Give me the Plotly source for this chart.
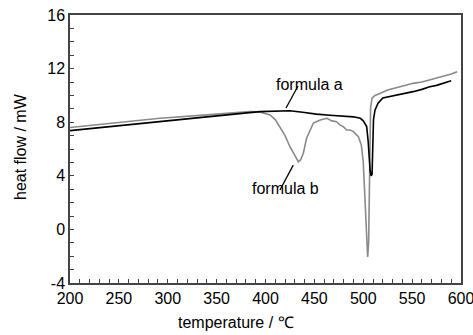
import plotly.graph_objects as go

# formula a (black)
temp_a = [200, 250, 292, 340, 394, 410, 425, 440, 452, 466, 480, 490, 497, 500, 503.5, 505, 507, 508, 509,
          509.5, 510.5, 512, 515, 520, 530, 538, 551, 560, 568, 575, 582, 590]
heat_a = [7.37, 7.72, 8.04, 8.4, 8.79, 8.84, 8.86, 8.72, 8.6, 8.52, 8.46, 8.4, 8.29, 8.1, 7.67, 6.6, 4.4, 4.0, 4.1,
          6.0, 8.2, 8.9, 9.4, 9.8, 9.95, 10.03, 10.28, 10.45, 10.65, 10.75, 10.9, 11.1]

# formula b (gray)
temp_b = [200, 250, 292, 340, 384, 395, 404.6, 410, 414.8, 420, 425, 430, 433.6, 436, 438.7, 442, 445.5, 449,
          452, 456, 462.6, 468, 472.7, 476, 479.6, 483, 486.4, 490, 495, 498, 500, 502, 503.5, 504.5, 505.5,
          506.5, 507.5, 509, 512, 517, 525, 537.6, 551, 560, 568, 575, 581.6, 590, 596]
heat_b = [7.6, 7.96, 8.29, 8.55, 8.79, 8.75, 8.54, 8.2, 7.67, 7.0, 6.17, 5.5, 5.05, 5.2, 5.68, 6.8, 7.4, 7.94,
          8.04, 8.16, 8.29, 8.1, 8.04, 7.8, 7.67, 7.42, 7.42, 7.3, 6.92, 6.3, 5.05, 2.0, -1.0, -2.06, -1.0,
          4.0, 9.06, 9.8, 10.0, 10.15, 10.4, 10.65, 10.9, 11.0, 11.15, 11.3, 11.45, 11.6, 11.77]

x_ticks = [200, 250, 300, 350, 400, 450, 500, 550, 600]
y_ticks = [-4, 0, 4, 8, 12, 16]

FONT = "Liberation Sans, Arial, sans-serif"

fig = go.Figure()
fig.add_trace(go.Scatter(x=temp_b, y=heat_b, mode="lines",
                         line=dict(color="#8a8a8a", width=1.6), name="formula b"))
fig.add_trace(go.Scatter(x=temp_a, y=heat_a, mode="lines",
                         line=dict(color="#000000", width=1.6), name="formula a"))

axis_common = dict(showgrid=False, zeroline=False, showline=True, linecolor="#444444", linewidth=1.5,
                   mirror=True, ticks="inside", ticklen=4, tickcolor="#444444",
                   ticklabeloverflow="allow", automargin=False,
                   tickfont=dict(family=FONT, size=16, color="#000000"))

fig.update_xaxes(range=[200, 600], tickvals=x_ticks, ticktext=[str(v) for v in x_ticks],
                 minor=dict(dtick=10, ticks="inside", ticklen=4, tickcolor="#444444"),
                 **axis_common)
fig.update_yaxes(range=[-4, 16], tickvals=y_ticks, ticktext=[str(v) for v in y_ticks],
                 minor=dict(dtick=1, ticks="inside", ticklen=4, tickcolor="#444444"),
                 **axis_common)

# plot area on screen: x 70..461, y 15..283
def px(xp):
    return (xp - 70) / 391

def py(yp):
    return (283 - yp) / 268

fig.add_annotation(text="temperature / ℃", xref="paper", yref="paper", x=px(236), y=py(322),
                   showarrow=False, font=dict(family=FONT, size=16, color="#000000"),
                   xanchor="center", yanchor="middle")
fig.add_annotation(text="heat flow / mW", xref="paper", yref="paper", x=px(20), y=py(147),
                   showarrow=False, textangle=-90, font=dict(family=FONT, size=16, color="#000000"),
                   xanchor="center", yanchor="middle")
fig.add_annotation(text="formula a", xref="paper", yref="paper", x=px(309), y=py(74), showarrow=False,
                   font=dict(family=FONT, size=16, color="#000000"))
fig.add_annotation(text="formula b", xref="paper", yref="paper", x=px(285), y=py(199), showarrow=False,
                   font=dict(family=FONT, size=16, color="#000000"))

fig.add_shape(type="line", xref="x", yref="y", x0=421, y0=9.06, x1=433.3, y1=10.7,
              line=dict(color="#000000", width=1.3))
fig.add_shape(type="line", xref="x", yref="y", x0=428.4, y0=4.8, x1=414.8, y1=2.94,
              line=dict(color="#000000", width=1.3))

fig.update_layout(width=473, height=335, margin=dict(l=70, r=12, t=15, b=52, autoexpand=False),
                  plot_bgcolor="white", paper_bgcolor="white", showlegend=False, hovermode=False)

# remove the default 8px page margin so the figure fills the window exactly
fig.write_html("out.html", config={"displayModeBar": False},
               post_script="document.body.style.margin='0px';document.body.style.overflow='hidden';")
